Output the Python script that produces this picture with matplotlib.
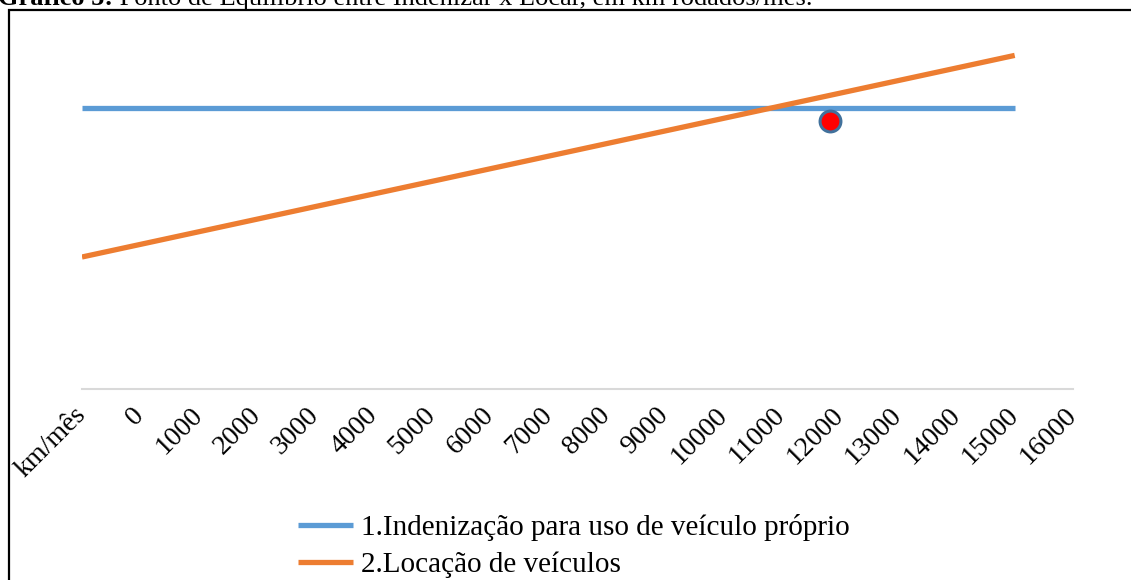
import matplotlib.pyplot as plt
from matplotlib.patches import Rectangle

# categories on the x axis (first one is the axis caption used as a category)
categories = ["km/mês"] + [str(v) for v in range(0, 17000, 1000)]

# series values (arbitrary R$ scale)
indenizacao = [2810] * 17
locacao = [1320, 1446, 1572, 1698, 1824, 1950, 2076, 2202, 2328,
           2454, 2580, 2706, 2832, 2958, 3084, 3210, 3336]

# equilibrium marker
eq_x = 12.83
eq_y = 2680

series_names = ["1.Indenização para uso de veículo próprio", "2.Locação de veículos"]

plt.rcParams["font.family"] = ["Liberation Serif", "DejaVu Serif"]

fig = plt.figure(figsize=(11.31, 5.80), dpi=100)
ax = fig.add_axes([82 / 1131, 191 / 580, 991 / 1131, 350 / 580])

blue = "#5B9BD5"
orange = "#ED7D31"

x = list(range(len(indenizacao)))
ax.plot(x, indenizacao, color=blue, lw=3.8, solid_capstyle="butt", label=series_names[0])
ax.plot(x, locacao, color=orange, lw=3.8, solid_capstyle="butt", label=series_names[1])
ax.plot([eq_x], [eq_y], "o", color="red", markersize=15,
        markeredgecolor="#41719C", markeredgewidth=2.2, zorder=5)

ax.set_xlim(0, len(categories) - 1)
ax.set_ylim(0, 3500)
ax.set_xticks(range(len(categories)))
ax.set_xticklabels(categories, rotation=45, ha="right", va="center",
                   rotation_mode="anchor", fontsize=20)
ax.tick_params(axis="x", length=0, pad=16)
ax.set_yticks([])
for side in ["top", "right", "left"]:
    ax.spines[side].set_visible(False)
ax.spines["bottom"].set_color("#D9D9D9")
ax.spines["bottom"].set_linewidth(1.5)

fig.legend(loc="center", bbox_to_anchor=(574 / 1131, 1 - 546 / 580), ncol=1,
           frameon=False, fontsize=21, handlelength=1.9, handletextpad=0.27,
           labelspacing=0.35)

# frame around the chart (cut by the image edges)
fig.patches.append(Rectangle((9 / 1131, -0.1), 1.2, 1 - 10 / 580 + 0.1,
                             transform=fig.transFigure, fill=False,
                             edgecolor="black", linewidth=1.6))

# caption, only its lower part is inside the picture
t1 = fig.text(-0.002, 1 - 5 / 580, "Gráfico 5:", fontsize=19, fontweight="bold", va="baseline")
ax.annotate(" Ponto de Equilíbrio entre Indenizar x Locar, em km rodados/mês.",
            xy=(1, 0), xycoords=t1, va="bottom", ha="left", fontsize=19,
            annotation_clip=False)

fig.savefig("out.png", dpi=100)
